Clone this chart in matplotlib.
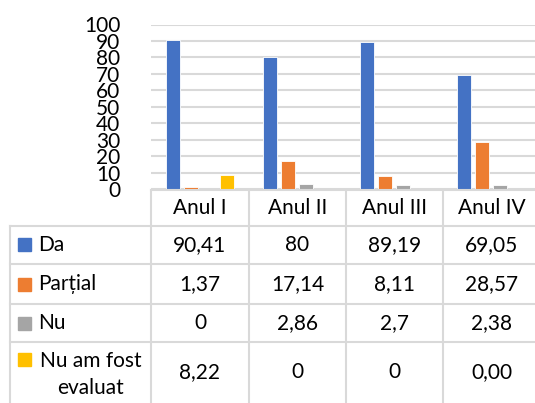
import matplotlib.pyplot as plt
import numpy as np
from matplotlib.lines import Line2D

plt.rcParams['font.family'] = ['Lato', 'DejaVu Sans']

# data (as shown in the table, Romanian decimal comma)
categories = ['Anul I', 'Anul II', 'Anul III', 'Anul IV']
series_names = ['Da', 'Parțial', 'Nu', 'Nu am fost\nevaluat']
da = ['90,41', '80', '89,19', '69,05']
partial = ['1,37', '17,14', '8,11', '28,57']
nu = ['0', '2,86', '2,7', '2,38']
neevaluat = ['8,22', '0', '0', '0,00']
table_rows = [da, partial, nu, neevaluat]
colors = ['#4472C4', '#ED7D31', '#A5A5A5', '#FFC000']
yticks = np.arange(0, 101, 10)

W, H = 535, 403
fig = plt.figure(figsize=(W / 100, H / 100), dpi=100)


def fx(x):
    return x / W


def fy(y):
    return 1 - y / H


# chart area
x0, x1 = 151, 540
y_top, y_bot = 24.5, 189
ax = fig.add_axes([fx(x0), fy(y_bot), fx(x1) - fx(x0), fy(y_top) - fy(y_bot)])

xs = np.arange(len(categories))
step = 0.185
width = 0.145
for i, (row, c) in enumerate(zip(table_rows, colors)):
    vals = [float(s.replace(',', '.')) for s in row]
    ax.bar(xs + (i - 1.5) * step, vals, width, color=c, edgecolor='white',
           linewidth=0.6, zorder=3)

fs = 15
ax.set_xlim(-0.5, len(categories) - 0.5)
ax.set_ylim(0, 100)
ax.set_yticks(yticks)
ax.set_yticklabels([str(t) for t in yticks], fontsize=fs)
ax.tick_params(axis='y', length=0, pad=22)
ax.set_xticks([])
for s in ax.spines.values():
    s.set_visible(False)
ax.grid(axis='y', color='#d9d9d9', linewidth=1.5, zorder=0)
ax.set_axisbelow(True)

# data table
gc = '#d9d9d9'
glw = 1.5
col_edges = [151, 249, 346, 443, 540]
row_edges = [190, 226, 264, 304, 342, 403]


def hline(y, xa, xb):
    fig.add_artist(Line2D([fx(xa), fx(xb)], [fy(y), fy(y)], color=gc, lw=glw,
                          transform=fig.transFigure))


def vline(x, ya, yb):
    fig.add_artist(Line2D([fx(x), fx(x)], [fy(ya), fy(yb)], color=gc, lw=glw,
                          transform=fig.transFigure))


hline(row_edges[0], col_edges[0], W)
for y in row_edges[1:5]:
    hline(y, 10, W)
vline(10, row_edges[1], H)
for x in col_edges[:-1]:
    vline(x, row_edges[0], H)

for j, cat in enumerate(categories):
    cx = (col_edges[j] + col_edges[j + 1]) / 2
    fig.text(fx(cx), fy((row_edges[0] + row_edges[1]) / 2), cat, ha='center',
             va='center', fontsize=fs)

for i, (name, row, c) in enumerate(zip(series_names, table_rows, colors)):
    cy = (row_edges[i + 1] + row_edges[i + 2]) / 2
    ya = row_edges[i + 1]
    sq_y = cy if '\n' not in name else ya + 17.5
    fig.patches.append(plt.Rectangle((fx(18), fy(sq_y + 6.5)), fx(13), fy(0) - fy(13),
                                     transform=fig.transFigure, color=c))
    if '\n' in name:
        fig.text(fx(90.5), fy(cy + 2), name, ha='center', va='center', fontsize=fs,
                 multialignment='center', linespacing=1.45)
    else:
        fig.text(fx(38), fy(cy), name, ha='left', va='center', fontsize=fs)
    for j, s in enumerate(row):
        cx = (col_edges[j] + col_edges[j + 1]) / 2
        fig.text(fx(cx), fy(cy), s, ha='center', va='center', fontsize=fs)

fig.savefig('out.png', dpi=100)
